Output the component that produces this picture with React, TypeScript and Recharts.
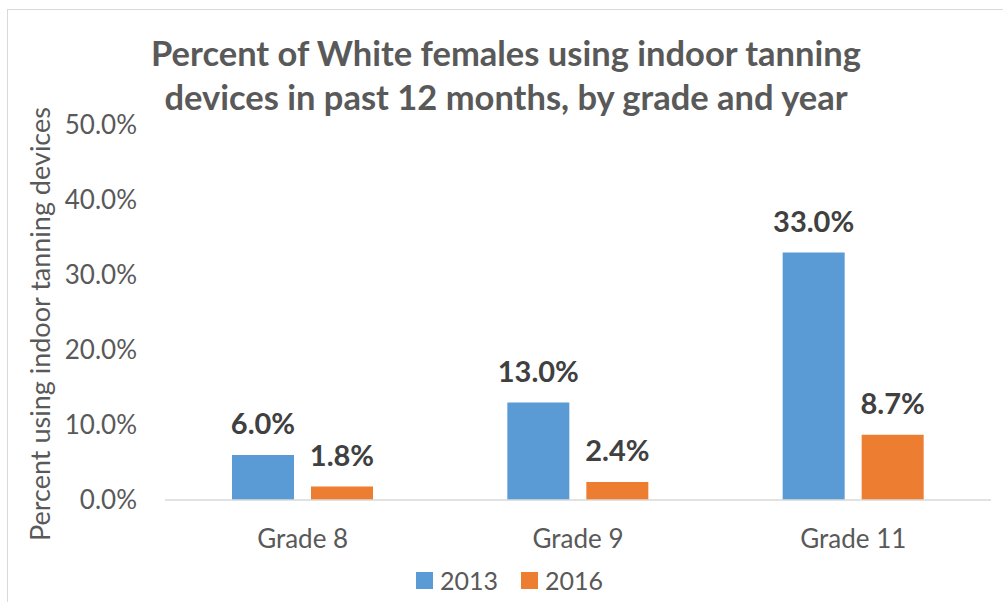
import React from 'react';
import { BarChart, Bar, XAxis, YAxis, Legend, LabelList } from 'recharts';

const categories = ['Grade 8', 'Grade 9', 'Grade 11'];
const values2013 = [6.0, 13.0, 33.0];
const values2016 = [1.8, 2.4, 8.7];
const yTicks = [0, 10, 20, 30, 40, 50];
const seriesNames = ['2013', '2016'];
const titleLines = ['Percent of White females using indoor tanning', 'devices in past 12 months, by grade and year'];
const yAxisTitle = 'Percent using indoor tanning devices';

const data = categories.map((c, i) => ({ grade: c, y2013: values2013[i], y2016: values2016[i] }));

const FONT = 'Lato, "Open Sans", sans-serif';
const BLUE = '#5b9bd5';
const ORANGE = '#ed7d31';

const fmt = (v: any) => `${Number(v).toFixed(1)}%`;

const LegendContent = (props: any) => {
  const payload = props.payload || [];
  return (
    <div style={{ display: 'flex', justifyContent: 'center', alignItems: 'center', height: 30, fontFamily: FONT, fontSize: 25, color: '#595959' }}>
      {payload.map((p: any, i: number) => (
        <div key={i} style={{ display: 'flex', alignItems: 'center', marginRight: i === 0 ? 23 : 0 }}>
          <div style={{ width: 17, height: 17, background: p.color, marginRight: 7 }} />
          <span>{p.value}</span>
        </div>
      ))}
    </div>
  );
};

export default function App() {
  return (
    <div style={{ position: 'relative', width: 1003, height: 602, background: '#fff', fontFamily: FONT, overflow: 'hidden' }}>
      <style>{`body{margin:0;}`}</style>
      <div style={{ position: 'absolute', left: 7, top: 9, width: 995, height: 600, borderTop: '1px solid #d9d9d9', borderLeft: '1px solid #d9d9d9', borderRight: '1px solid #d9d9d9' }} />
      <BarChart
        width={1003}
        height={602}
        data={data}
        margin={{ top: 125, right: 12, left: 65, bottom: 32 }}
        barSize={62}
        barGap={17}
      >
        <XAxis
          dataKey="grade"
          height={40}
          axisLine={{ stroke: '#d9d9d9', strokeWidth: 1.5 }}
          tickLine={false}
          tickMargin={24}
          tick={{ fill: '#595959', fontSize: 26, fontFamily: FONT }}
        />
        <YAxis
          width={100}
          domain={[0, 50]}
          ticks={yTicks}
          tickFormatter={fmt}
          axisLine={false}
          tickLine={false}
          tickMargin={22}
          tick={{ fill: '#595959', fontSize: 26, fontFamily: FONT }}
        />
        <Legend
          verticalAlign="bottom"
          content={<LegendContent />}
          wrapperStyle={{ top: 565, left: 16, width: 987, height: 30 }}
        />
        <Bar dataKey="y2013" name={seriesNames[0]} fill={BLUE} isAnimationActive={false}>
          <LabelList dataKey="y2013" position="top" offset={21} formatter={fmt} fill="#404040" fontSize={29} fontWeight="bold" fontFamily={FONT} />
        </Bar>
        <Bar dataKey="y2016" name={seriesNames[1]} fill={ORANGE} isAnimationActive={false}>
          <LabelList dataKey="y2016" position="top" offset={21} formatter={fmt} fill="#404040" fontSize={29} fontWeight="bold" fontFamily={FONT} />
        </Bar>
      </BarChart>
      <div style={{ position: 'absolute', left: 0, width: 1012, top: 31, textAlign: 'center', fontSize: 34.5, lineHeight: '44px', fontWeight: 'bold', color: '#595959', whiteSpace: 'nowrap' }}>
        {titleLines.map((t, i) => <div key={i}>{t}</div>)}
      </div>
      <div style={{ position: 'absolute', left: 39, top: 324, transform: 'translate(-50%, -50%) rotate(-90deg)', whiteSpace: 'nowrap', fontSize: 27, color: '#595959' }}>
        {yAxisTitle}
      </div>
    </div>
  );
}
